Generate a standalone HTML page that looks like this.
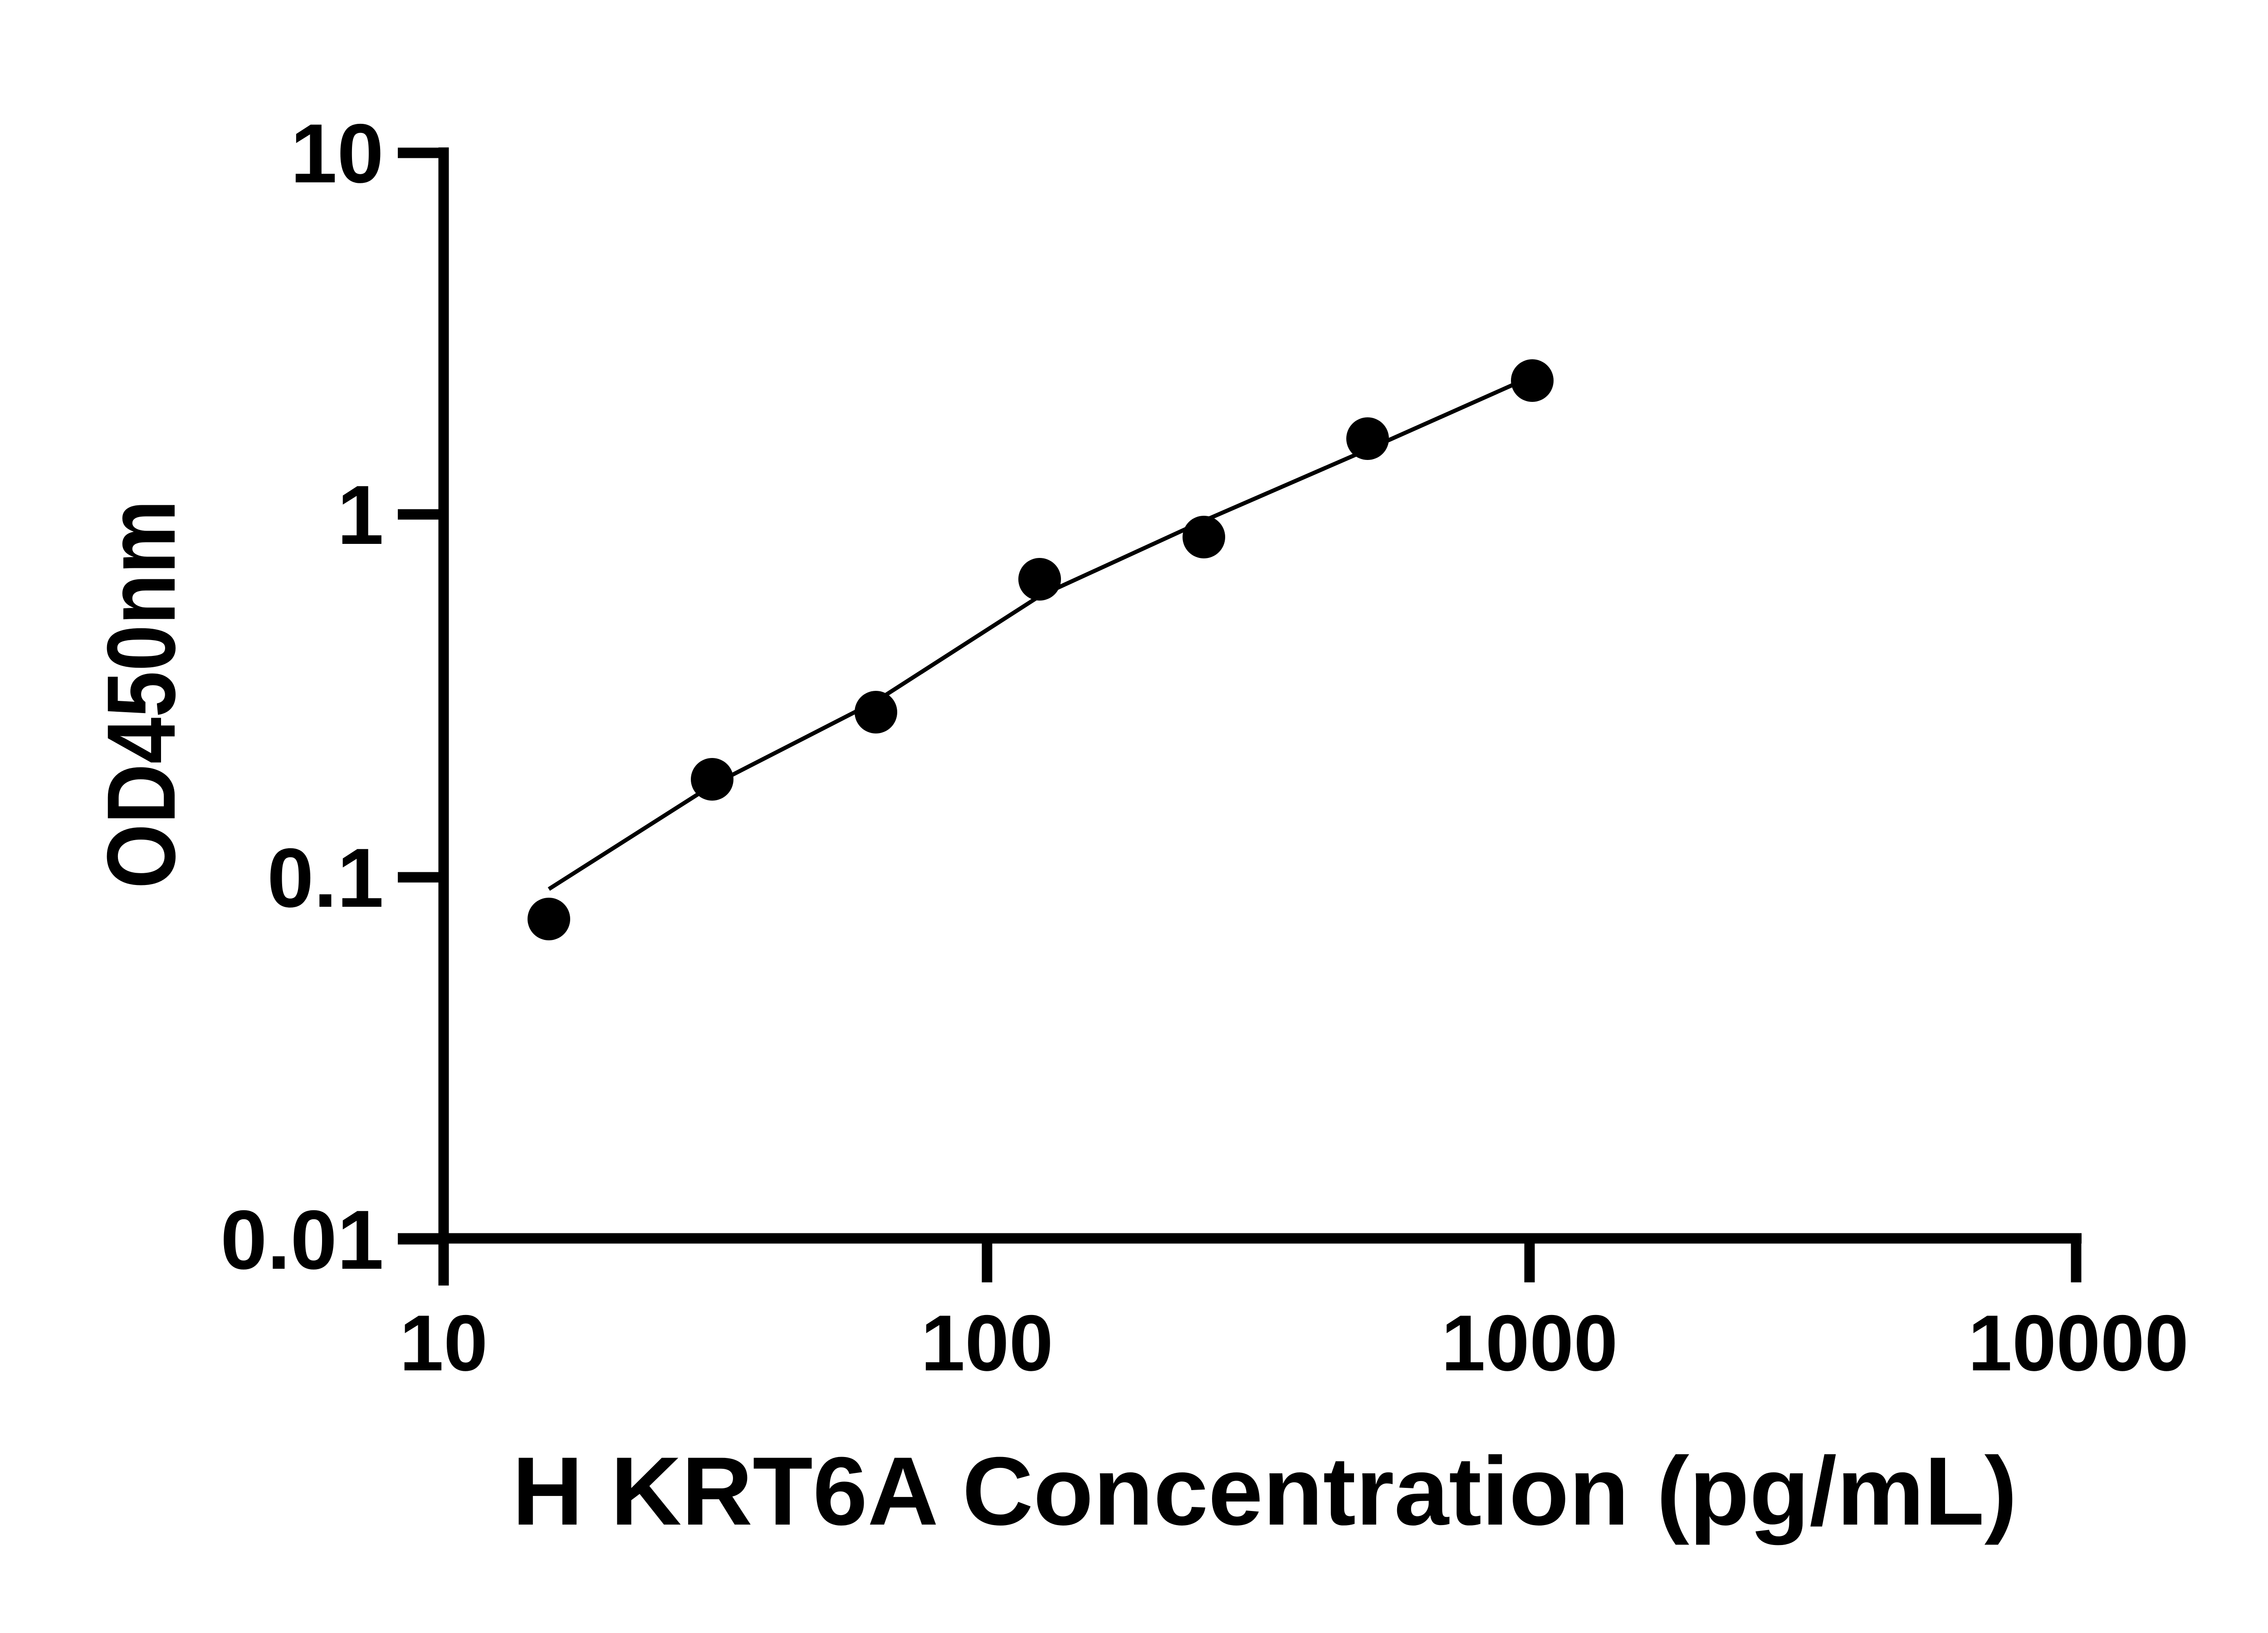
<!DOCTYPE html>
<html><head><style>html,body{margin:0;padding:0;background:#fff}svg{display:block}</style></head>
<body>
<svg width="5130" height="3600" viewBox="0 0 5130 3600" xmlns="http://www.w3.org/2000/svg" font-family="Liberation Sans, Arial, sans-serif" font-weight="bold">
<rect width="5130" height="3600" fill="#fff"/>
<g stroke="#000" stroke-width="23" fill="none">
<line x1="978" y1="325" x2="978" y2="2834"/>
<line x1="877" y1="2730" x2="4589" y2="2730"/>
<line x1="877" y1="337" x2="978" y2="337"/>
<line x1="877" y1="1134" x2="978" y2="1134"/>
<line x1="877" y1="1934" x2="978" y2="1934"/>
<line x1="877" y1="2732" x2="978" y2="2732"/>
<line x1="2176" y1="2730" x2="2176" y2="2827"/>
<line x1="3372" y1="2730" x2="3372" y2="2827"/>
<line x1="4577" y1="2719" x2="4577" y2="2827"/>
</g>
<g font-size="185" text-anchor="end">
<text x="846" y="402">10</text>
<text x="846" y="1199">1</text>
<text x="846" y="1999">0.1</text>
<text x="846" y="2797">0.01</text>
</g>
<g font-size="175" text-anchor="middle">
<text x="978" y="3021">10</text>
<text x="2176" y="3021">100</text>
<text x="3372" y="3021">1000</text>
<text x="4582" y="3021">10000</text>
</g>
<text x="1129" y="3361" font-size="214" textLength="3318" lengthAdjust="spacingAndGlyphs">H KRT6A Concentration (pg/mL)</text>
<text transform="translate(385,1959) rotate(-90)" font-size="214" textLength="857" lengthAdjust="spacingAndGlyphs">OD450nm</text>
<polyline fill="none" stroke="#000" stroke-width="9" points="1210,1960 1570,1731 1931,1546 2292,1314 2654,1148 3015,991 3334,849"/>
<g fill="#000">
<circle cx="1210" cy="2026" r="47"/>
<circle cx="1570" cy="1718" r="47"/>
<circle cx="1931" cy="1570" r="47"/>
<circle cx="2292" cy="1277" r="47"/>
<circle cx="2654" cy="1184" r="47"/>
<circle cx="3015" cy="967" r="47"/>
<circle cx="3378" cy="839" r="47"/>
</g>
</svg>
</body></html>
